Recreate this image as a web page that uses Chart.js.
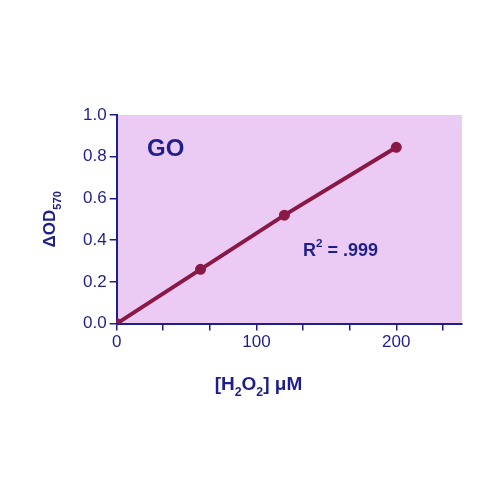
<!DOCTYPE html>
<html>
<head>
<meta charset="utf-8">
<script src="https://cdn.jsdelivr.net/npm/chart.js@4"></script>
<style>
  html, body { margin: 0; padding: 0; background: #fff; }
  #wrap { width: 500px; height: 500px; }
</style>
</head>
<body>
<div id="wrap"><canvas id="chart"></canvas></div>
<script>
const concentrations = [0, 60, 120, 200];
const deltaOD = [0, 0.26, 0.52, 0.845];
const xTicks = [0, 100 / 3, 200 / 3, 100, 400 / 3, 500 / 3, 200, 700 / 3];
const xLabels = ['0', '100', '200'];
const panelLabel = 'GO';
const rSquared = ['R', '2', ' = .999'];
const yTitle = ['\u0394OD', '570'];
const xTitle = ['[H', '2', 'O', '2', '] \u03bcM'];

const navy = '#1f1f8c';
const line = '#8a1846';
const font = 'Arial, "Liberation Sans", sans-serif';

// draw text pieces, odd ones as sub/superscripts
function drawRich(ctx, parts, x, y, size, shift) {
    let cx = x;
    parts.forEach((p, i) => {
        const small = i % 2 === 1;
        ctx.font = `bold ${small ? size * 0.65 : size}px ${font}`;
        ctx.fillText(p, cx, small ? y + shift : y);
        cx += ctx.measureText(p).width;
    });
    return cx - x;
}
function richWidth(ctx, parts, size) {
    let w = 0;
    parts.forEach((p, i) => {
        ctx.font = `bold ${i % 2 ? size * 0.65 : size}px ${font}`;
        w += ctx.measureText(p).width;
    });
    return w;
}

const decor = {
    id: 'decor',
    beforeDraw(chart) {
        const { ctx, chartArea: a } = chart;
        ctx.save();
        ctx.fillStyle = '#ebcbf3';
        ctx.fillRect(a.left, a.top, a.right - a.left, a.bottom - a.top);
        ctx.restore();
    },
    afterDraw(chart) {
        const { ctx, chartArea: a, scales } = chart;
        ctx.save();
        ctx.fillStyle = navy;
        ctx.textBaseline = 'alphabetic';
        ctx.font = `bold 24px ${font}`;
        ctx.fillText(panelLabel, 147, 156);
        drawRich(ctx, rSquared, 303, 256, 18, -9);
        const xw = richWidth(ctx, xTitle, 19);
        drawRich(ctx, xTitle, scales.x.getPixelForValue(100) - xw / 2 + 2, 390, 19, 6);
        ctx.translate(55, (a.top + a.bottom) / 2);
        ctx.rotate(-Math.PI / 2);
        const yw = richWidth(ctx, yTitle, 17);
        drawRich(ctx, yTitle, -yw / 2, 0, 17, 6);
        ctx.restore();
    }
};

new Chart(document.getElementById('chart'), {
    type: 'line',
    data: {
        datasets: [{
            data: concentrations.map((c, i) => ({ x: c, y: deltaOD[i] })),
            borderColor: line,
            backgroundColor: line,
            borderWidth: 4,
            pointRadius: 3.5,
            pointBackgroundColor: line,
            tension: 0
        }]
    },
    options: {
        responsive: true,
        maintainAspectRatio: false,
        animation: false,
        layout: { padding: { left: 80, right: 38, top: 115, bottom: 145 } },
        plugins: { legend: { display: false }, tooltip: { enabled: false } },
        scales: {
            x: {
                type: 'linear',
                min: 0,
                max: 247,
                afterBuildTicks: axis => { axis.ticks = xTicks.map(v => ({ value: v })); },
                ticks: {
                    color: navy,
                    font: { size: 17, family: font },
                    padding: 2,
                    maxRotation: 0,
                    autoSkip: false,
                    callback: v => {
                        const r = Math.round(v);
                        return Math.abs(v - r) < 0.01 && xLabels.includes(String(r)) ? String(r) : '';
                    }
                },
                grid: { drawOnChartArea: false, color: navy, tickLength: 7, lineWidth: 1.5 },
                border: { color: navy, width: 2 }
            },
            y: {
                min: 0,
                max: 1,
                ticks: {
                    stepSize: 0.2,
                    color: navy,
                    font: { size: 17, family: font },
                    padding: 3,
                    callback: v => v.toFixed(1)
                },
                grid: { drawOnChartArea: false, color: navy, tickLength: 7, lineWidth: 1.5 },
                border: { color: navy, width: 2 }
            }
        }
    },
    plugins: [decor]
});
</script>
</body>
</html>
